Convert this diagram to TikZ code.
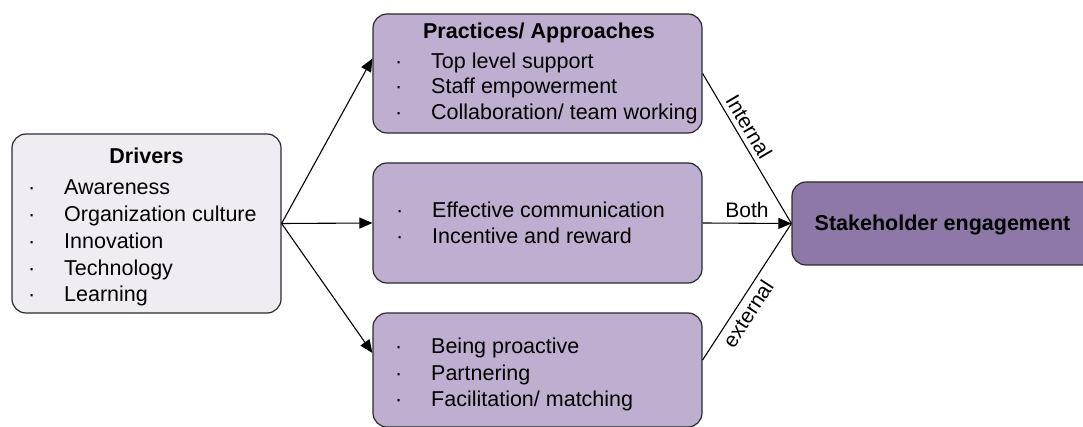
\documentclass[tikz,border=0pt]{standalone}
\usepackage{fontspec}
\setmainfont{Liberation Sans}
\usetikzlibrary{arrows.meta}

\definecolor{drvfill}{HTML}{EFEDF3}
\definecolor{pracfill}{HTML}{BEAED0}
\definecolor{engfill}{HTML}{8E78A8}
\definecolor{boxline}{HTML}{2B2B2B}

% bullet with a fixed gap before the item text
\newcommand{\itm}[1]{\makebox[36pt][l]{\textperiodcentered}#1}

\tikzset{
    panel/.style={draw=boxline, line width=1.2pt, rounded corners=14pt, inner sep=0pt},
    item/.style={anchor=base west, inner sep=0pt, font=\fontsize{21.5}{26}\selectfont},
    head/.style={anchor=base, inner sep=0pt, font=\fontsize{21.5}{26}\selectfont\bfseries},
    link/.style={line width=1.1pt, -{Triangle[length=13pt, width=11pt]}},
    plain/.style={line width=1.1pt},
    tag/.style={inner sep=4.5pt, font=\fontsize{21}{24}\selectfont}
}

\begin{document}
\begin{tikzpicture}[x=1pt, y=-1pt]
        \useasboundingbox (0,0) rectangle (1083,427);
        \clip (0,0) rectangle (1083,427);

        % boxes
        \node[panel, fill=drvfill, minimum width=269pt, minimum height=179pt] (drivers) at (146.5,223.5) {};
        \node[panel, fill=pracfill, minimum width=329pt, minimum height=119pt] (prac) at (537.5,73.5) {};
        \node[panel, fill=pracfill, minimum width=329pt, minimum height=120pt] (comm) at (537.5,223) {};
        \node[panel, fill=pracfill, minimum width=329pt, minimum height=114pt] (proact) at (537.5,370) {};
        \node[panel, fill=engfill, minimum width=310pt, minimum height=83pt] (stake) at (947,223.5) {};

        % texts
        \node[head] (drvhead) at (146.5,163.3) {Drivers};
        \foreach \t [count=\i] in {Awareness, Organization culture, Innovation, Technology, Learning}
            \node[item] (drv\i) at (28,{168.3+26.7*\i}) {\itm{\t}};

        \node[head] (prachead) at (539,38.3) {Practices/ Approaches};
        \foreach \t [count=\i] in {Top level support, Staff empowerment, Collaboration/ team working}
            \node[item] (prac\i) at (395,{42.8+25.5*\i}) {\itm{\t}};

        \foreach \t [count=\i] in {Effective communication, Incentive and reward}
            \node[item] (comm\i) at (396,{192.5+25.5*\i}) {\itm{\t}};

        \foreach \t [count=\i] in {Being proactive, Partnering, Facilitation/ matching}
            \node[item] (proact\i) at (395,{326.6+26.7*\i}) {\itm{\t}};

        \node[head] (stakehead) at (942.5,231) {Stakeholder engagement};

        % drivers to practices
        \draw[link] (drivers.east) -- ([yshift=15pt]prac.west);
        \draw[link] (drivers.east) -- (comm.west);
        \draw[link] (drivers.east) -- ([yshift=17pt]proact.west);

        % practices to engagement
        \draw[plain] (prac.east) -- (stake.west) node[tag, pos=0.4, sloped, above] (internal) {Internal};
        \draw[link] (comm.east) -- (stake.west) node[tag, midway, above] (both) {Both};
        \draw[plain] ([yshift=10pt]proact.east) -- (stake.west) node[tag, pos=0.39, sloped, below] (external) {external};
    \end{tikzpicture}
\end{document}
